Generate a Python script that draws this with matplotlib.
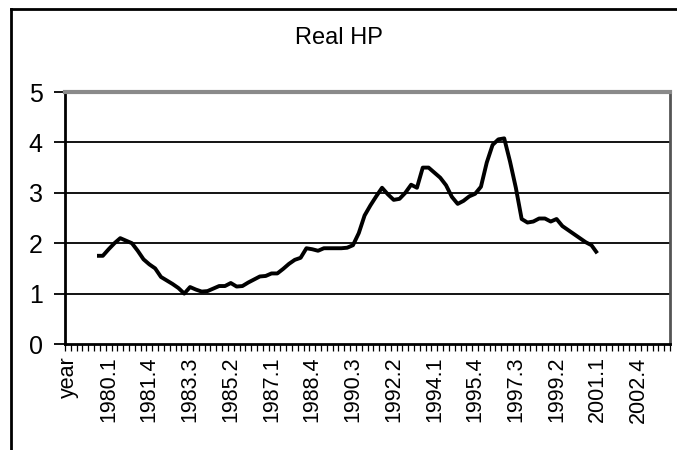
""" Real HP chart, quarterly, redrawn from a scanned spreadsheet plot. """

import numpy as np
import matplotlib
matplotlib.use('Agg')
import matplotlib.pyplot as plt
from matplotlib.lines import Line2D


plt.rcParams['font.family'] = ['Liberation Sans', 'DejaVu Sans']


# Category axis: header cell, then quarters from 1978.3 to 2004.1
first_year, first_q = 1978, 3
n_quarters = 103

categories = ['year']
year, q = first_year, first_q
for _ in range(n_quarters):
    categories.append('%d.%d' % (year, q))
    q += 1
    if q > 4:
        q = 1
        year += 1

# Real HP series, 1979.3 .. 2001.1
series_start = '1979.3'
real_hp = [
    1.75, 1.75, 1.88, 2.00, 2.10, 2.05, 2.00, 1.85, 1.68, 1.58,
    1.50, 1.33, 1.26, 1.19, 1.11, 1.00, 1.13, 1.08, 1.04, 1.05,
    1.10, 1.15, 1.15, 1.21, 1.14, 1.15, 1.22, 1.28, 1.34, 1.35,
    1.40, 1.40, 1.49, 1.59, 1.67, 1.71, 1.90, 1.88, 1.85, 1.90,
    1.90, 1.90, 1.90, 1.91, 1.96, 2.20, 2.55, 2.75, 2.93, 3.10,
    2.97, 2.86, 2.88, 3.00, 3.16, 3.10, 3.50, 3.50, 3.40, 3.30,
    3.15, 2.92, 2.78, 2.84, 2.93, 2.98, 3.12, 3.60, 3.95, 4.06,
    4.08, 3.62, 3.10, 2.48, 2.41, 2.43, 2.49, 2.49, 2.43, 2.48,
    2.34, 2.26, 2.18, 2.10, 2.02, 1.96, 1.80,
]

# Every 7th category gets a label
label_step = 7
y_ticks = [0, 1, 2, 3, 4, 5]


fig = plt.figure(figsize=(6.77, 4.5), dpi=100)
ax = fig.add_axes([65/677, 1 - 344/450, 605/677, 252/450])

n_cat = len(categories)
start = categories.index(series_start)
x = np.arange(start, start + len(real_hp)) + 0.5

ax.plot(x, real_hp, color='k', linewidth=2.8, solid_joinstyle='round',
        solid_capstyle='butt', zorder=3)

ax.set_xlim(0, n_cat)
ax.set_ylim(0, 5)

# Horizontal gridlines
for yv in y_ticks[1:-1]:
    ax.axhline(yv, color='k', linewidth=1.3, zorder=1)

# Tick marks on category boundaries, labels on category centres
ax.set_xticks(np.arange(n_cat + 1))
ax.set_xticklabels([])
ax.tick_params(axis='x', which='major', direction='out', length=5, width=0.9)

lab_idx = np.arange(0, n_cat, label_step)
ax.set_xticks(lab_idx + 0.5, minor=True)
ax.set_xticklabels([categories[i] for i in lab_idx], minor=True, rotation=90, fontsize=15.5)
ax.tick_params(axis='x', which='minor', length=0, pad=9)

ax.set_yticks(y_ticks)
ax.set_yticklabels([str(v) for v in y_ticks], fontsize=18)
ax.tick_params(axis='y', direction='out', length=8, width=1.3, pad=8)

ax.spines['left'].set_linewidth(2)
ax.spines['bottom'].set_linewidth(2)
ax.spines['top'].set_color('#8a8a8a')
ax.spines['top'].set_linewidth(3)
ax.spines['right'].set_color('#555555')
ax.spines['right'].set_linewidth(2)

fig.text(339/677, 1 - 38/450, 'Real HP', ha='center', va='center', fontsize=17)

# Chart area border (left and top edges visible in the scan)
fig.add_artist(Line2D([11/677, 11/677], [0, 1 - 9/450], transform=fig.transFigure, color='k', linewidth=2))
fig.add_artist(Line2D([11/677, 1], [1 - 9/450, 1 - 9/450], transform=fig.transFigure, color='k', linewidth=2))

plt.savefig('out.png', dpi=100)
plt.close()
